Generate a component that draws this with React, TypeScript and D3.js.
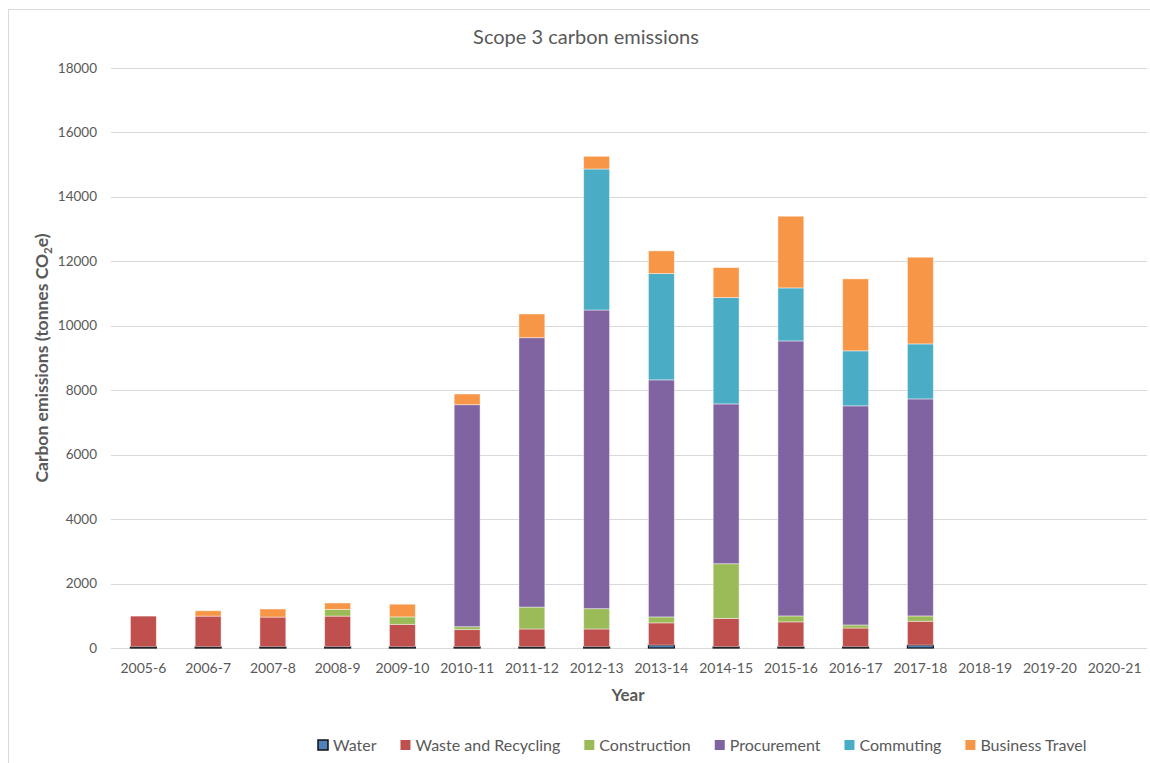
import React, { useEffect, useRef } from "react";
import * as d3 from "d3";

// Financial years on the x axis
const years = [
  "2005-6", "2006-7", "2007-8", "2008-9", "2009-10", "2010-11", "2011-12", "2012-13",
  "2013-14", "2014-15", "2015-16", "2016-17", "2017-18", "2018-19", "2019-20", "2020-21",
];

// Emissions by source, tonnes CO2e (no data yet for the last three years)
const water = [40, 40, 40, 40, 40, 40, 40, 40, 90, 40, 40, 40, 90, 0, 0, 0];
const wasteAndRecycling = [950, 950, 920, 950, 695, 530, 550, 550, 690, 880, 770, 580, 740, 0, 0, 0];
const construction = [0, 0, 0, 210, 230, 90, 680, 630, 185, 1695, 185, 95, 165, 0, 0, 0];
const procurement = [0, 0, 0, 0, 0, 6890, 8360, 9270, 7356, 4960, 8535, 6800, 6735, 0, 0, 0];
const commuting = [0, 0, 0, 0, 0, 0, 0, 4376, 3299, 3300, 1645, 1707, 1707, 0, 0, 0];
const businessTravel = [0, 165, 250, 197, 394, 332, 736, 394, 704, 931, 2225, 2234, 2691, 0, 0, 0];

const yTicks = [0, 2000, 4000, 6000, 8000, 10000, 12000, 14000, 16000, 18000];

const seriesNames = ["Water", "Waste and Recycling", "Construction", "Procurement", "Commuting", "Business Travel"];
const seriesValues = [water, wasteAndRecycling, construction, procurement, commuting, businessTravel];
const seriesColors = ["#4F81BD", "#C0504D", "#9BBB59", "#8064A2", "#4BACC6", "#F79646"];

const W = 1150;
const H = 763;
const FONT = "Lato, 'Open Sans', sans-serif";
const TEXT = "#595959";

export default function App() {
  const ref = useRef<SVGSVGElement | null>(null);

  useEffect(() => {
    document.body.style.margin = "0";
    const svg = d3.select(ref.current);
    svg.selectAll("*").remove();

    const margin = { left: 111, right: 3, top: 68, bottom: 115 };
    const x = d3
      .scaleBand<string>()
      .domain(years)
      .range([margin.left, W - margin.right])
      .paddingInner(0.6)
      .paddingOuter(0.3);
    const y = d3.scaleLinear().domain([0, 18000]).range([H - margin.bottom, margin.top]);

    // chart frame
    svg
      .append("rect")
      .attr("x", 8.5)
      .attr("y", 9.5)
      .attr("width", W + 10)
      .attr("height", H + 10)
      .attr("fill", "white")
      .attr("stroke", "#D9D9D9");

    // title
    svg
      .append("text")
      .attr("x", 586)
      .attr("y", 44)
      .attr("text-anchor", "middle")
      .attr("font-family", FONT)
      .attr("font-size", 20)
      .attr("fill", TEXT)
      .text("Scope 3 carbon emissions");

    // gridlines
    svg
      .append("g")
      .selectAll("line")
      .data(yTicks)
      .join("line")
      .attr("x1", margin.left)
      .attr("x2", W - margin.right)
      .attr("y1", (d) => Math.round(y(d)) + 0.5)
      .attr("y2", (d) => Math.round(y(d)) + 0.5)
      .attr("stroke", "#D9D9D9")
      .attr("stroke-width", 1.2);

    // y tick labels
    svg
      .append("g")
      .selectAll("text")
      .data(yTicks)
      .join("text")
      .attr("x", 97)
      .attr("y", (d) => y(d) + 4.5)
      .attr("text-anchor", "end")
      .attr("font-family", FONT)
      .attr("font-size", 13.5)
      .attr("fill", TEXT)
      .text((d) => String(d));

    // x tick labels
    svg
      .append("g")
      .selectAll("text")
      .data(years)
      .join("text")
      .attr("x", (d) => (x(d) as number) + x.bandwidth() / 2)
      .attr("y", 673)
      .attr("text-anchor", "middle")
      .attr("font-family", FONT)
      .attr("font-size", 14)
      .attr("fill", TEXT)
      .text((d) => d);

    // stacked bars
    const table = years.map((yr, i) => {
      const row: Record<string, number | string> = { year: yr };
      seriesNames.forEach((n, k) => (row[n] = seriesValues[k][i]));
      return row;
    });
    const stacked = d3.stack<Record<string, number | string>>().keys(seriesNames)(table as any);

    stacked.forEach((layer, k) => {
      svg
        .append("g")
        .selectAll("rect")
        .data(layer.filter((d) => d[1] - d[0] > 0))
        .join("rect")
        .attr("x", (d) => x(d.data.year as string) as number)
        .attr("width", x.bandwidth())
        .attr("y", (d) => y(d[1]))
        .attr("height", (d) => y(d[0]) - y(d[1]))
        .attr("fill", seriesColors[k])
        .attr("stroke", k === 0 ? "#111" : "rgba(255,255,255,0.55)")
        .attr("stroke-width", k === 0 ? 1.2 : 0.8);
    });

    // y axis title with subscript
    const yt = svg
      .append("text")
      .attr("transform", "translate(48,358) rotate(-90)")
      .attr("text-anchor", "middle")
      .attr("font-family", FONT)
      .attr("font-size", 17.5)
      .attr("font-weight", "bold")
      .attr("fill", TEXT);
    yt.append("tspan").text("Carbon emissions (tonnes CO");
    yt.append("tspan").attr("font-size", 11.5).attr("dy", 4).text("2");
    yt.append("tspan").attr("dy", -4).text("e)");

    // x axis title
    svg
      .append("text")
      .attr("x", 628)
      .attr("y", 701)
      .attr("text-anchor", "middle")
      .attr("font-family", FONT)
      .attr("font-size", 17)
      .attr("font-weight", "bold")
      .attr("fill", TEXT)
      .text("Year");

    // legend, laid out from measured label widths
    const legend = svg.append("g");
    let cx = 318;
    seriesNames.forEach((name, k) => {
      legend
        .append("rect")
        .attr("x", cx)
        .attr("y", 740)
        .attr("width", 10)
        .attr("height", 10)
        .attr("fill", seriesColors[k])
        .attr("stroke", k === 0 ? "#111" : "none")
        .attr("stroke-width", 1.5);
      const t = legend
        .append("text")
        .attr("x", cx + 15)
        .attr("y", 751)
        .attr("font-family", FONT)
        .attr("font-size", 16)
        .attr("fill", TEXT)
        .text(name);
      const w = (t.node() as SVGTextElement).getComputedTextLength();
      cx += 15 + w + 24;
    });
  }, []);

  return <svg ref={ref} width={W} height={H} style={{ display: "block" }} />;
}
